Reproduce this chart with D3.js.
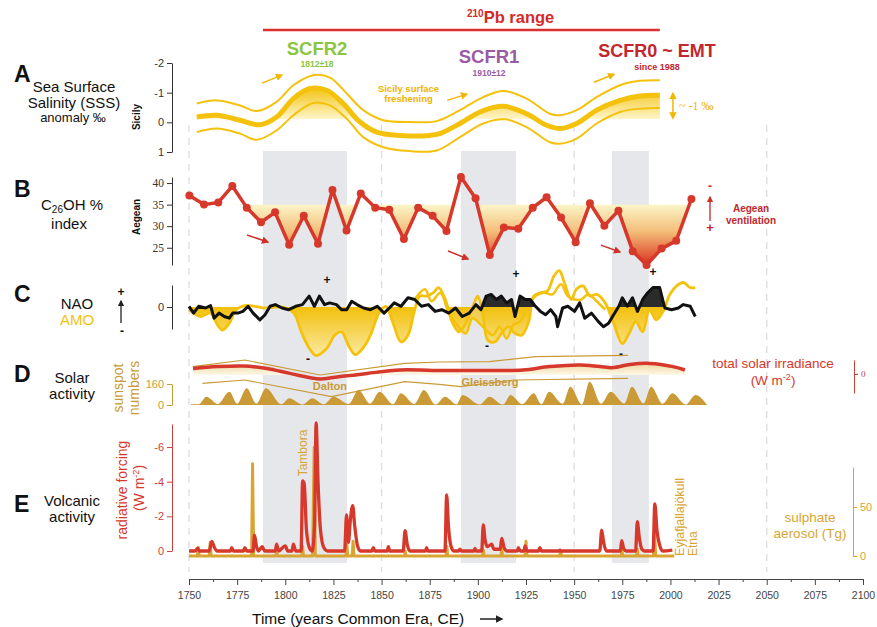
<!DOCTYPE html>
<html><head><meta charset="utf-8">
<script src="https://cdn.jsdelivr.net/npm/d3@7"></script>
<style>body{margin:0;background:#fff}svg{display:block}text{font-family:"Liberation Sans",Arial,sans-serif}</style>
</head><body><svg id="c" width="877" height="627"></svg>
<script>
// ---------- DATA ----------
const xTicks = [1750,1775,1800,1825,1850,1875,1900,1925,1950,1975,2000,2025,2050,2075,2100];
const gridYears = [1750,1850,1950,2050];
const bandStart = [1788.4,1891.2,1969.6];
const bandEnd   = [1832.0,1919.8,1988.8];
const pbRange = [1788.4,1994.5];

// A: Sea surface salinity anomaly (Sicily)
const sssMidYears = [1754.0,1764.4,1776.5,1786.9,1795.5,1804.2,1812.8,1821.5,1830.1,1838.8,1847.5,1859.6,1875.1,1880.3,1890.7,1901.1,1913.2,1925.3,1935.7,1942.6,1951.3,1961.7,1973.8,1984.2,1994.5];
const sssMid = [-0.18,-0.24,-0.07,0.08,-0.18,-0.8,-1.14,-1.08,-0.63,-0.01,0.33,0.44,0.44,0.38,0.04,-0.35,-0.54,-0.29,0.1,0.21,0.04,-0.41,-0.74,-0.89,-0.91];
const sssUpYears = [1754.0,1764.4,1776.5,1785.1,1795.5,1804.2,1814.5,1823.2,1831.9,1840.5,1850.9,1864.7,1878.6,1890.7,1902.8,1913.2,1925.3,1937.4,1942.6,1951.3,1961.7,1973.8,1984.2,1994.5];
const sssUp = [-0.63,-0.74,-0.57,-0.38,-0.69,-1.25,-1.59,-1.51,-0.97,-0.41,-0.07,-0.01,-0.04,-0.41,-0.85,-1.06,-0.8,-0.29,-0.24,-0.41,-0.85,-1.25,-1.4,-1.42];
const sssLoYears = [1754.0,1764.4,1776.5,1785.1,1795.5,1804.2,1814.5,1823.2,1831.9,1840.5,1850.9,1864.7,1878.6,1890.7,1902.8,1914.1,1925.3,1937.4,1942.6,1951.3,1961.7,1973.8,1984.2,1994.5];
const sssLo = [0.33,0.21,0.38,0.59,0.27,-0.24,-0.65,-0.57,-0.12,0.5,0.84,0.97,0.95,0.5,0.04,-0.1,0.16,0.67,0.72,0.55,0.04,-0.35,-0.46,-0.48];
const sssTicks = [-2,-1,0,1];

// B: C26OH % index (Aegean)
const c26Years = [1750.2,1757.8,1765.2,1772.5,1780,1787.4,1794.7,1802,1809.6,1817,1824.5,1831.8,1839.2,1846.7,1854,1861.6,1869,1876.5,1883.7,1891.2,1898.8,1906.2,1913.5,1921,1928.5,1935.7,1943.2,1950.8,1958.2,1965.7,1973,1980.4,1987.6,1995.4,2003,2010.9];
const c26 = [37.1,35,35.5,39.3,34.3,30.9,33.2,25.7,32.4,25.9,38.4,29,37.6,34.3,33.8,27,34.3,32.4,28.9,41.4,36.5,23.3,29.7,29.4,34.3,36.7,32,26.3,35.3,30.1,33.6,24.2,21,24.8,26.6,36.3];
const c26Ticks = [25,30,35,40];

// C: NAO and AMO
const naoYears = [1750,1752.4,1755,1758.6,1761.2,1763,1765.6,1768.3,1770.9,1772.7,1775.4,1778,1780.7,1783.3,1786.8,1789.5,1792.1,1794.8,1798.3,1801.8,1805.4,1808.9,1812.4,1815.1,1817.7,1820.4,1823,1826.6,1829.2,1831.9,1834.5,1837.2,1840.7,1844.2,1847.8,1851.3,1854,1856.6,1860.1,1863.7,1867.2,1870.7,1874.3,1877.8,1881.3,1884.9,1888.4,1891.9,1895.5,1899,1901.6,1904.3,1906.9,1909.6,1912.2,1914.9,1917.5,1919.3,1921.9,1924.6,1927.2,1929.9,1932.5,1935.2,1937.8,1940.5,1941.4,1944,1946.7,1950.2,1952.9,1955.5,1959,1962.6,1965.2,1967.9,1970.5,1973.2,1975,1977.6,1980.3,1982.9,1985.6,1988.2,1990.9,1994.4,1997.1,2000.6,2004.1,2006.7,2010.3,2012.9];
const nao = [0.07,-0.61,0.07,-0.1,0.14,-1.12,-0.61,-0.95,-1.12,-0.61,-0.61,-0.44,0.07,-0.61,-1.29,-0.78,0.07,0.24,-0.1,-0.27,0.07,0.24,1.09,0.07,1.09,0.24,0.41,0.24,-0.27,-0.27,0.58,0.24,-0.1,-0.27,0.07,-0.61,-0.1,0.41,0.07,0.92,0.75,0.07,0.24,-0.44,-0.27,-0.61,-0.1,-0.95,-0.61,0.24,-0.27,1.09,1.26,0.75,1.09,0.41,0.75,-0.95,1.09,0.75,0.75,0.07,-0.44,-0.78,-0.27,-0.95,-1.97,-0.1,0.07,-0.44,0.41,-1.12,-0.61,-1.46,-1.97,-1.63,-0.78,0.07,0.92,0.07,0.92,-0.44,0.75,1.43,1.94,1.94,-0.1,-0.27,-0.1,0.24,0.07,-0.95];
const naoFillStart = [1898,1972];
const naoFillEnd = [1930,1997];
const amoYears = [1750,1756,1761.2,1764.8,1767.4,1770.9,1774.5,1778.9,1784.2,1789.5,1794.8,1800.1,1804.5,1808,1811.6,1816,1821.3,1825.7,1829.2,1832.8,1836.3,1840.7,1844.2,1848.7,1852.2,1855.7,1860.1,1863.7,1867.2,1869.9,1873.4,1876.9,1879.6,1883.1,1886.6,1890.2,1893.7,1897.2,1899.9,1902.5,1905.2,1908.7,1912.2,1915.8,1919.3,1922.8,1926.4,1929,1932.5,1936.1,1939.6,1942.3,1944.9,1948.5,1951.1,1954.6,1958.2,1961.7,1966.1,1970.5,1975,1978.5,1982,1985.6,1989.1,1992.6,1996.2,1999.7,2003.2,2006.7,2010.3,2012.9];
const amo = [-0.27,-0.95,-0.61,-1.8,-2.31,-1.63,-0.27,0.14,0.07,-0.1,0,-0.1,-0.61,-2.31,-3.84,-4.86,-4.18,-2.82,-2.48,-3.84,-4.76,-4.01,-2.82,-0.61,0.07,-1.46,-3.5,-2.82,-0.27,1.09,1.09,1.43,1.94,0.75,-1.46,-2.48,-1.63,-0.1,1.09,-0.61,-3.33,-3.5,-2.65,-1.97,-2.65,-2.82,-1.46,1.09,1.43,1.6,3.13,3.64,2.45,0.75,1.77,2.11,1.09,1.26,0.41,-1.63,-3.67,-2.65,-1.46,-2.48,-0.27,-1.29,-0.44,1.26,2.11,2.45,1.94,1.94];
const amo2Years = [1867.2,1872.5,1876,1880.5,1884.9,1889.3,1893.7,1897.2,1900.8,1904.3,1907.8,1911.3,1914.9,1918.4,1921.9,1925.5,1929.9,1934.3,1938.7,1943.1,1946.7,1950.2,1953.7,1957.3,1961.7,1966.1];
const amo2 = [0.75,1.77,0.58,1.43,-0.61,-1.8,-2.65,-1.12,-1.63,-2.31,-2.82,-1.97,-3.16,-1.8,-1.46,-0.27,1.09,1.43,1.26,2.28,1.09,0.75,0.75,1.26,0.58,-0.27];

// D: solar activity
const tsiYears = [1752.1,1764.5,1778,1790.5,1802.4,1818,1824.8,1842.4,1859.6,1876.7,1906.3,1923.4,1937.4,1953,1963.4,1970.1,1979,1989.4,2001.3,2007.5];
const tsi = [0.28,0.37,0.4,0.28,0.03,-0.25,-0.18,0.03,0.2,0.18,0.17,0.2,0.37,0.45,0.37,0.32,0.48,0.53,0.37,0.2];
const tsiUpYears = [1752,1779,1818,1862,1880,1906,1930,1978];
const tsiUp = [0.37,0.7,-0.05,0.53,0.6,0.62,0.87,0.93];
const tsiLoYears = [1757,1779,1824,1862,1880,1891,1919,1978];
const tsiLo = [-0.47,-0.3,-1.13,-0.38,-0.52,-0.63,-0.3,-0.22];
const ssYears = [1751,1755,1759,1765,1771,1775,1780,1785,1790,1798,1802,1809,1814,1820,1825,1833,1838,1844,1849,1856,1860,1867,1872,1878,1883,1889,1892,1901,1906,1913,1917,1923,1929,1933,1937,1944,1948,1954,1958,1964,1969,1976,1980,1986,1990,1996,2001,2008,2013,2019];
const ss = [5,5,63,8,101,10,127,10,127,5,51,3,51,5,63,8,114,10,101,6,89,8,114,3,63,5,76,4,63,3,76,6,89,6,101,10,140,5,178,10,101,12,140,13,140,9,89,3,76,2];

// E: volcanic activity
const rfYears = [1750,1753,1754.5,1755.5,1760.5,1761.8,1763,1764.5,1771.5,1772.2,1773,1778.3,1779,1780,1783.3,1784,1785,1786,1788,1789.3,1794.8,1795.5,1796.5,1800,1801.3,1803.5,1804.2,1805.5,1808.2,1809,1809.8,1811,1812.5,1814,1815.2,1816,1817,1818.3,1820,1822,1830.8,1831.8,1832.8,1833.8,1835,1836,1837.5,1839,1845,1845.7,1846.5,1853,1853.5,1854.2,1861.2,1862.2,1863.3,1864.8,1872.8,1873.4,1874,1882.9,1883.8,1884.7,1886,1887.5,1890,1890.7,1891.5,1898,1898.5,1899,1902,1902.8,1903.8,1905,1907.2,1908.3,1911.6,1912.4,1913.5,1915,1920.5,1921,1922,1924,1924.5,1925.5,1931.5,1932.2,1933,1942,1942.6,1943,1963.3,1964.3,1965.3,1966.8,1974,1974.7,1975.7,1977,1981.9,1982.8,1983.8,1985.2,1986.5,1991,1991.9,1993,1994.5,1996,2001];
const rf = [0,0,-0.15,0,0,-0.55,-0.25,0,0,-0.2,0,0,-0.2,0,0,-0.92,-0.3,0,-0.25,0,0,-0.4,0,-0.3,0,0,-0.4,0,0,-4.05,-3.9,-1.2,-0.2,0,-1.5,-7.4,-4,-1.2,-0.2,0,0,-2.08,-0.5,-1.8,-2.62,-1.5,-0.3,0,0,-0.2,0,0,-0.25,0,0,-1.17,-0.4,0,0,-0.2,0,0,-3.24,-1.5,-0.3,0,0,-0.1,0,0,-0.15,0,0,-1.5,-0.6,-0.25,-0.4,-0.1,-0.1,-0.73,-0.25,0,0,-0.2,0,0,-0.3,0,0,-0.2,0,0,-0.05,0,0,-1.21,-0.5,0,0,-0.6,-0.15,0,0,-1.69,-0.8,-0.1,0,0,-2.72,-1.2,-0.3,0,-0.05];
const saYears = [1750,1754.3,1754.8,1755.3,1760.5,1761,1761.5,1782.5,1783,1783.6,1795,1795.5,1796,1808.6,1809,1809.4,1814.2,1815,1815.6,1831.5,1832,1832.4,1834.7,1835.2,1835.7,1862,1862.3,1862.6,1883.5,1883.9,1884.3,1902.5,1902.9,1903.3,1912,1912.4,1912.8,1924.5,1925,1925.5,1942.5,1943,1943.5,1974.5,1974.8,1975.2,1982.4,1982.8,1983.2,1991.2,1991.7,1992.3,2002];
const sa = [0,0,9,0,0,14,0,0,94,0,0,4,0,0,10,0,0,111,0,0,12,0,0,15,0,0,5,0,0,10,0,0,6,0,0,8,0,0,15,0,0,5,0,0,6,0,0,7,0,0,31,0,0];

// ---------- SETUP ----------
const svg = d3.select("#c");
const defs = svg.append("defs");
const x = d3.scaleLinear().domain([1750,2100]).range([189,863]);
const zip = (ys, vs) => ys.map((t,i)=>({t, v:vs[i]}));
const YEL="#f4c20d", RED="#d6382b", TAN="#c99a35", SAT="#d9a532";
const fmt = d=>String(d);

function marker(id,color){
  defs.append("marker").attr("id",id).attr("viewBox","0 0 10 10").attr("refX",8).attr("refY",5)
    .attr("markerWidth",5).attr("markerHeight",5).attr("orient","auto-start-reverse")
    .append("path").attr("d","M0,0L10,5L0,10z").attr("fill",color);
}
marker("mY","#f2b705"); marker("mR","#d0302a"); marker("mK","#222");
function grad(id,y1,y2,stops){
  const g=defs.append("linearGradient").attr("id",id).attr("gradientUnits","userSpaceOnUse")
    .attr("x1",0).attr("x2",0).attr("y1",y1).attr("y2",y2);
  stops.forEach(s=>g.append("stop").attr("offset",s[0]).attr("stop-color",s[1]));
}
function clip(id,y0,y1){
  defs.append("clipPath").attr("id",id).append("rect").attr("x",0).attr("width",877).attr("y",y0).attr("height",y1-y0);
}
function styleAxis(g,color,size,family){
  g.select(".domain").attr("stroke",color);
  g.selectAll(".tick line").attr("stroke",color);
  g.selectAll(".tick text").attr("fill",color).style("font-size",size+"px").style("font-family",family||"Liberation Sans, Arial");
}
function label(txt,xp,yp,opt){
  const t=svg.append("text").attr("x",xp).attr("y",yp).text(txt)
    .attr("text-anchor",opt.anchor||"middle").attr("fill",opt.fill||"#111")
    .style("font-size",(opt.size||15.5)+"px").style("font-weight",opt.bold?"bold":"normal");
  if(opt.rot) t.attr("transform",`rotate(-90,${xp},${yp})`);
  if(opt.family) t.style("font-family",opt.family);
  return t;
}
function arrow(x1,y1,x2,y2,m,color,w){
  svg.append("line").attr("x1",x1).attr("y1",y1).attr("x2",x2).attr("y2",y2)
    .attr("stroke",color).attr("stroke-width",w||1.5).attr("marker-end",`url(#${m})`);
}

// ---------- BACKGROUND ----------
svg.selectAll(".band").data(bandStart.map((s,i)=>[s,bandEnd[i]])).enter().append("rect")
  .attr("x",d=>x(d[0])).attr("width",d=>x(d[1])-x(d[0])).attr("y",151).attr("height",412).attr("fill","#e6e7eb");
svg.selectAll(".grid").data(gridYears).enter().append("line")
  .attr("x1",d=>x(d)).attr("x2",d=>x(d)).attr("y1",125).attr("y2",572)
  .attr("stroke","#dcdcdc").attr("stroke-width",1.3).attr("stroke-dasharray","7,6");

// ---------- TOP ----------
svg.append("line").attr("x1",x(pbRange[0])).attr("x2",x(pbRange[1])).attr("y1",30).attr("y2",30)
  .attr("stroke","#dc2f2f").attr("stroke-width",2.5);
const pb=svg.append("text").attr("x",467).attr("y",23).attr("fill","#d42a2a").style("font-weight","bold");
pb.append("tspan").text("210").style("font-size","10px").attr("dy",-6);
pb.append("tspan").text("Pb range").style("font-size","16.5px").attr("dy",6);
label("SCFR2",x(1816.5),55,{fill:"#8cc540",bold:true,size:18.5});
label("1812±18",x(1816.5),67,{fill:"#8cc540",bold:true,size:8.5});
label("SCFR1",x(1905.8),63,{fill:"#9a5ba5",bold:true,size:18.5});
label("1910±12",x(1905.8),76,{fill:"#9a5ba5",bold:true,size:8.5});
label("SCFR0 ~ EMT",x(1993),57,{fill:"#c1272d",bold:true,size:18});
label("since 1988",x(1993),70,{fill:"#c1272d",bold:true,size:9});

// ---------- PANEL A ----------
const yA = d3.scaleLinear().domain([-2,1]).range([63,152]);
const sssBase = -0.1;
grad("gA",85,yA(sssBase),[[0,"#f1be00"],[1,"#fff6cc"]]);
clip("cA",0,yA(sssBase));
const lineA = d3.line().x(d=>x(d.t)).y(d=>yA(d.v)).curve(d3.curveCatmullRom);
svg.append("path").datum(zip(sssMidYears,sssMid))
  .attr("d",d3.area().x(d=>x(d.t)).y0(yA(sssBase)).y1(d=>yA(d.v)).curve(d3.curveCatmullRom))
  .attr("fill","url(#gA)").attr("clip-path","url(#cA)");
svg.append("path").datum(zip(sssUpYears,sssUp)).attr("d",lineA).attr("fill","none").attr("stroke",YEL).attr("stroke-width",2);
svg.append("path").datum(zip(sssLoYears,sssLo)).attr("d",lineA).attr("fill","none").attr("stroke",YEL).attr("stroke-width",2);
svg.append("path").datum(zip(sssMidYears,sssMid)).attr("d",lineA).attr("fill","none").attr("stroke",YEL).attr("stroke-width",5);
const gA=svg.append("g").attr("transform","translate(172,0)")
  .call(d3.axisLeft(yA).tickValues(sssTicks).tickSize(5).tickSizeOuter(0).tickFormat(fmt));
styleAxis(gA,"#333",11);
label("A",14,82,{anchor:"start",bold:true,size:23});
label("Sea Surface",74,92,{size:15});
label("Salinity (SSS)",74,108,{size:15});
label("anomaly ‰",73,122,{size:13});
label("Sicily",140,117,{rot:true,bold:true,size:10});
arrow(x(1787.9),yA(-1.32),x(1798.3),yA(-1.59),"mY","#f2b705",1.5);
arrow(x(1884),yA(-0.74),x(1894.3),yA(-0.95),"mY","#f2b705",1.5);
arrow(x(1960.3),yA(-1.35),x(1970.7),yA(-1.62),"mY","#f2b705",1.5);
label("Sicily surface",x(1864),92,{fill:"#f0b200",bold:true,size:9.5});
label("freshening",x(1864),102,{fill:"#f0b200",bold:true,size:9.5});
svg.append("line").attr("x1",x(2001.3)).attr("x2",x(2001.3)).attr("y1",yA(-0.14)).attr("y2",yA(-0.98))
  .attr("stroke","#f2b705").attr("stroke-width",1.5).attr("marker-end","url(#mY)").attr("marker-start","url(#mY)");
label("~ -1 ‰",679,110,{anchor:"start",fill:"#f0b200",size:12,family:"Liberation Serif, serif"});

// ---------- PANEL B ----------
const yB = d3.scaleLinear().domain([21,41.4]).range([265,177]);
grad("gB",yB(35),yB(21),[[0,"#fcf5c8"],[0.45,"#f3bd78"],[1,"#d92f1d"]]);
clip("cB",yB(35),300);
svg.append("path").datum(zip(c26Years,c26))
  .attr("d",d3.area().x(d=>x(d.t)).y0(yB(35)).y1(d=>yB(d.v)))
  .attr("fill","url(#gB)").attr("clip-path","url(#cB)");
svg.append("path").datum(zip(c26Years,c26))
  .attr("d",d3.line().x(d=>x(d.t)).y(d=>yB(d.v))).attr("fill","none").attr("stroke",RED).attr("stroke-width",3.5).attr("stroke-linejoin","round");
svg.selectAll(".pB").data(zip(c26Years,c26)).enter().append("circle")
  .attr("cx",d=>x(d.t)).attr("cy",d=>yB(d.v)).attr("r",4).attr("fill",RED);
const gB=svg.append("g").attr("transform","translate(172,0)")
  .call(d3.axisLeft(yB).tickValues(c26Ticks).tickSize(5).tickSizeOuter(0));
styleAxis(gB,"#333",11.5,"Liberation Serif, serif");
label("B",14,197,{anchor:"start",bold:true,size:23});
const cl=svg.append("text").attr("x",41).attr("y",210).attr("fill","#111").style("font-size","15px");
cl.append("tspan").text("C");
cl.append("tspan").text("26").style("font-size","10px").attr("dy",3);
cl.append("tspan").text("OH %").attr("dy",-3);
label("index",69,229,{size:15});
label("Aegean",140,217,{rot:true,bold:true,size:10});
arrow(x(1780.1),yB(27.95),x(1791),yB(26.33),"mR","#d0302a",1.5);
arrow(x(1884.5),yB(24.25),x(1894.9),yB(22.4),"mR","#d0302a",1.5);
arrow(x(1963.9),yB(25.6),x(1973.8),yB(24),"mR","#d0302a",1.5);
label("-",710,190,{fill:"#c1272d",bold:true,size:12});
label("+",710,232,{fill:"#c1272d",bold:true,size:13});
arrow(710,221,710,197,"mR","#c1272d",1.3);
label("Aegean",751,212,{fill:"#c1272d",bold:true,size:10});
label("ventilation",751,224,{fill:"#c1272d",bold:true,size:10});

// ---------- PANEL C ----------
const yC = d3.scaleLinear().domain([-2.2,2.2]).range([329,285]);
grad("gC",yC(0),yC(-5),[[0,"#f2c00c"],[1,"#fbeaa6"]]);
clip("cCneg",yC(0),420);
const cp = defs.append("clipPath").attr("id","cCpos");
naoFillStart.forEach((s,i)=>cp.append("rect").attr("x",x(s)).attr("width",x(naoFillEnd[i])-x(s)).attr("y",200).attr("height",yC(0)-200));
const areaC = d3.area().x(d=>x(d.t)).y0(yC(0)).y1(d=>yC(d.v)).curve(d3.curveCatmullRom);
const lineC = d3.line().x(d=>x(d.t)).y(d=>yC(d.v)).curve(d3.curveCatmullRom);
svg.append("path").datum(zip(amoYears,amo)).attr("d",areaC).attr("fill","url(#gC)").attr("clip-path","url(#cCneg)");
svg.append("path").datum(zip(amo2Years,amo2)).attr("d",areaC).attr("fill","url(#gC)").attr("opacity",0.75).attr("clip-path","url(#cCneg)");
svg.append("path").datum(zip(amo2Years,amo2)).attr("d",lineC).attr("fill","none").attr("stroke",YEL).attr("stroke-width",2.5);
svg.append("path").datum(zip(amoYears,amo)).attr("d",lineC).attr("fill","none").attr("stroke",YEL).attr("stroke-width",2.8);
svg.append("path").datum(zip(naoYears,nao))
  .attr("d",d3.area().x(d=>x(d.t)).y0(yC(0)).y1(d=>yC(d.v)))
  .attr("fill","#2b2b2b").attr("clip-path","url(#cCpos)");
svg.append("path").datum(zip(naoYears,nao))
  .attr("d",d3.line().x(d=>x(d.t)).y(d=>yC(d.v))).attr("fill","none").attr("stroke","#111").attr("stroke-width",3).attr("stroke-linejoin","round");
const gC=svg.append("g").attr("transform","translate(172,0)")
  .call(d3.axisLeft(yC).tickValues([0]).tickSize(5).tickSizeOuter(0).tickFormat(fmt));
styleAxis(gC,"#333",11);
label("C",14,302,{anchor:"start",bold:true,size:23});
label("NAO",77,309,{size:15});
label("AMO",77,325,{fill:YEL,size:15});
label("+",121,296,{bold:true,size:12});
label("-",122,335,{bold:true,size:12});
svg.append("line").attr("x1",121).attr("x2",121).attr("y1",323).attr("y2",301).attr("stroke","#222").attr("stroke-width",1.3).attr("marker-end","url(#mK)");
[[1821.7,2.3],[1919.8,2.9],[1991,3.1]].forEach(p=>label("+",x(p[0]),yC(p[1]),{bold:true,size:12,fill:"#111"}));
[[1811.8,-5.6],[1904.7,-4.3],[1974.3,-5.1]].forEach(p=>label("-",x(p[0]),yC(p[1]),{bold:true,size:12}));

// ---------- PANEL D ----------
const ySS = d3.scaleLinear().domain([0,160]).range([405,384]);
const yT = d3.scaleLinear().domain([-0.95,0.7]).range([393,360]);
const tsiBase = -0.05;
svg.append("path").datum(zip(ssYears,ss))
  .attr("d",d3.area().x(d=>x(d.t)).y0(ySS(0)).y1(d=>ySS(d.v)).curve(d3.curveMonotoneX)).attr("fill",TAN);
grad("gD",yT(0.6),yT(tsiBase),[[0,"#edd394"],[1,"#fdf8e8"]]);
clip("cD",300,yT(tsiBase));
svg.append("path").datum(zip(tsiYears,tsi))
  .attr("d",d3.area().x(d=>x(d.t)).y0(yT(tsiBase)).y1(d=>yT(d.v)).curve(d3.curveCatmullRom))
  .attr("fill","url(#gD)").attr("clip-path","url(#cD)");
const lineT = d3.line().x(d=>x(d.t)).y(d=>yT(d.v));
svg.append("path").datum(zip(tsiUpYears,tsiUp)).attr("d",lineT).attr("fill","none").attr("stroke",TAN).attr("stroke-width",1.1);
svg.append("path").datum(zip(tsiLoYears,tsiLo)).attr("d",lineT).attr("fill","none").attr("stroke",TAN).attr("stroke-width",1.1);
svg.append("path").datum(zip(tsiYears,tsi)).attr("d",lineT.curve(d3.curveCatmullRom)).attr("fill","none").attr("stroke",RED).attr("stroke-width",3.5);
const gSS=svg.append("g").attr("transform","translate(172,0)")
  .call(d3.axisLeft(ySS).tickValues([0,160]).tickSize(5).tickSizeOuter(0));
styleAxis(gSS,TAN,11);
const gT=svg.append("g").attr("transform","translate(854,0)")
  .call(d3.axisRight(yT).tickValues([0]).tickSize(4).tickSizeOuter(0).tickFormat(fmt));
styleAxis(gT,"#d0403a",9,"Liberation Serif, serif");
label("Dalton",x(1823.2),390,{fill:TAN,bold:true,size:11});
label("Gleissberg",x(1906.3),386,{fill:TAN,bold:true,size:11});
label("D",14,382,{anchor:"start",bold:true,size:23});
label("Solar",72,383,{size:15});
label("activity",72,399,{size:15});
label("sunspot",123,388,{rot:true,fill:TAN,size:14});
label("numbers",139,388,{rot:true,fill:TAN,size:14});
label("total solar irradiance",773,368,{fill:RED,size:13.5});
const wl=svg.append("text").attr("x",773).attr("y",385).attr("text-anchor","middle").attr("fill",RED).style("font-size","13.5px");
wl.append("tspan").text("(W m");
wl.append("tspan").text("-2").style("font-size","9px").attr("dy",-5);
wl.append("tspan").text(")").attr("dy",5);

// ---------- PANEL E ----------
const yRF = d3.scaleLinear().domain([0,-7.33]).range([551,424]);
const ySA = d3.scaleLinear().domain([0,90.8]).range([556,467]);
svg.append("path").datum(zip(saYears,sa))
  .attr("d",d3.line().x(d=>x(d.t)).y(d=>ySA(d.v))).attr("fill","none").attr("stroke",SAT).attr("stroke-width",3).attr("stroke-linejoin","round");
svg.append("path").datum(zip(rfYears,rf))
  .attr("d",d3.line().x(d=>x(d.t)).y(d=>yRF(d.v)).curve(d3.curveMonotoneX)).attr("fill","none").attr("stroke",RED).attr("stroke-width",3.3).attr("stroke-linejoin","round");
const gRF=svg.append("g").attr("transform","translate(172,0)")
  .call(d3.axisLeft(yRF).tickValues([0,-2,-4,-6]).tickSize(5).tickSizeOuter(0).tickFormat(fmt));
styleAxis(gRF,"#d0403a",11);
const gSA=svg.append("g").attr("transform","translate(853,0)")
  .call(d3.axisRight(ySA).tickValues([0,50]).tickSize(4).tickSizeOuter(0));
styleAxis(gSA,SAT,11);
label("E",14,512,{anchor:"start",bold:true,size:23});
label("Volcanic",72,506,{size:15});
label("activity",72,522,{size:15});
label("radiative forcing",127,490,{rot:true,fill:RED,size:14});
const rl=svg.append("text").attr("transform","rotate(-90,144,488)").attr("x",144).attr("y",488).attr("text-anchor","middle").attr("fill",RED).style("font-size","14px");
rl.append("tspan").text("(W m");
rl.append("tspan").text("-2").style("font-size","9px").attr("dy",-5);
rl.append("tspan").text(")").attr("dy",5);
label("sulphate",810,522,{fill:SAT,size:13.5});
label("aerosol (Tg)",810,538,{fill:SAT,size:13.5});
label("Tambora",x(1809.2)+4,453,{rot:true,fill:SAT,size:12});
label("Eyjafjallajökull",x(2004.4)+5,556,{rot:true,anchor:"start",fill:SAT,size:12}).attr("textLength",78).attr("lengthAdjust","spacingAndGlyphs");
label("Etna",x(2011.2)+5,556,{rot:true,anchor:"start",fill:SAT,size:12});

// ---------- X AXIS ----------
const gX=svg.append("g").attr("transform","translate(0,579)")
  .call(d3.axisBottom(x).tickValues(xTicks).tickSize(6).tickSizeOuter(0).tickFormat(d3.format("d")));
styleAxis(gX,"#444",10.5);
gX.selectAll(".tick text").attr("dy","1em");
svg.append("g").attr("transform","translate(0,579)")
  .call(d3.axisBottom(x).tickValues(xTicks.slice(0,-1).map(d=>d+12.5)).tickSize(3).tickFormat(""))
  .call(g=>{g.select(".domain").remove(); g.selectAll("line").attr("stroke","#444");});
label("Time (years Common Era, CE)",252,624,{anchor:"start",size:15.5});
arrow(480,619,502,619,"mK","#222",1.5);
</script></body></html>
